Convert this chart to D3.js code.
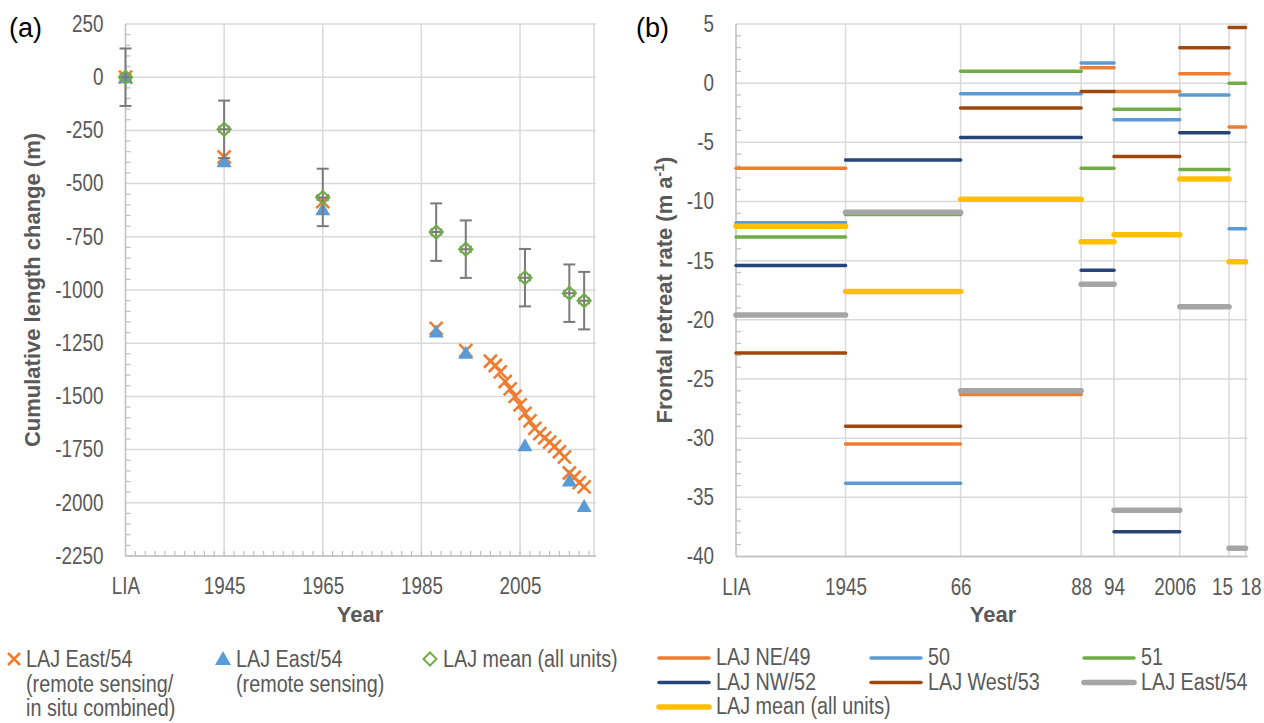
<!DOCTYPE html>
<html lang="en">
<head>
<meta charset="utf-8">
<title>LAJ frontal change</title>
<style>
    body { margin: 0; background: #fff; }
    svg text { font-family: "Liberation Sans", Arial, sans-serif; }
    .tick text { font-size: 23px; fill: #595959; }
    .axis-title { font-weight: bold; font-size: 22px; fill: #595959; }
    .panel-label { font-size: 27px; fill: #000; }
    .legend text { font-size: 23px; fill: #595959; }
</style>
</head>
<body>
<svg id="chart" width="1264" height="723"></svg>
<script src="https://d3js.org/d3.v7.min.js"></script>
<script>
    // ---- panel (a): cumulative length change, LIA = 1925 on the axis
    var aTickYears  = [1925, 1945, 1965, 1985, 2005];
    var aTickLabels = ['LIA', '1945', '1965', '1985', '2005'];
    var aYTicks     = [250, 0, -250, -500, -750, -1000, -1250, -1500, -1750, -2000, -2250];

    var meanYears  = [1925, 1945, 1965, 1988, 1994, 2006, 2015, 2018];
    var meanValues = [0, -245, -565, -728, -808, -942, -1015, -1050];
    var meanErr    = [135, 135, 135, 135, 135, 135, 135, 135];

    var rsYears  = [1925, 1945, 1965, 1988, 1994, 2006, 2015, 2018];
    var rsValues = [0, -395, -620, -1195, -1295, -1730, -1895, -2015];

    var combYears  = [1925, 1945, 1965, 1988, 1994, 1999, 2000, 2001, 2002, 2003, 2004, 2005, 2006,
                      2007, 2008, 2009, 2010, 2011, 2012, 2013, 2014, 2015, 2016, 2017, 2018];
    var combValues = [0, -375, -585, -1180, -1285, -1335, -1355, -1385, -1430, -1465, -1500, -1540, -1580,
                      -1615, -1650, -1675, -1695, -1715, -1735, -1760, -1785, -1860, -1880, -1905, -1925];

    // ---- panel (b): frontal retreat rate per period
    var bYears      = [1925, 1945, 1966, 1988, 1994, 2006, 2015, 2018];
    var bTickLabels = ['LIA', '1945', '66', '88', '94', '2006', '15', '18'];
    var bYTicks     = [5, 0, -5, -10, -15, -20, -25, -30, -35, -40];

    var rateNE49   = [-7.2, -30.5, -26.3, 1.3, -0.7, 0.8, -3.7];
    var rate50     = [-11.8, -33.8, -0.9, 1.7, -3.1, -1.0, -12.3];
    var rate51     = [-13.0, -11.1, 1.0, -7.2, -2.2, -7.3, 0.0];
    var rateNW52   = [-15.4, -6.5, -4.6, -15.8, -37.9, -4.2, null];
    var rateWest53 = [-22.8, -29.0, -2.1, -0.7, -6.2, 3.0, 4.7];
    var rateEast54 = [-19.6, -10.9, -26.0, -17.0, -36.1, -18.9, -39.3];
    var rateMean   = [-12.1, -17.6, -9.8, -13.4, -12.8, -8.1, -15.1];

    var bSeries = [
        {name: 'LAJ NE/49', values: rateNE49, color: '#ED7D31', w: 3.5},
        {name: '50', values: rate50, color: '#5B9BD5', w: 3.5},
        {name: '51', values: rate51, color: '#70AD47', w: 3.5},
        {name: 'LAJ NW/52', values: rateNW52, color: '#264478', w: 3.5},
        {name: 'LAJ West/53', values: rateWest53, color: '#9E480E', w: 3.5},
        {name: 'LAJ East/54', values: rateEast54, color: '#A5A5A5', w: 5.5},
        {name: 'LAJ mean (all units)', values: rateMean, color: '#FFC000', w: 5.5}
    ];

    var svg = d3.select('#chart');
    var gridColor = '#d9d9d9', axisColor = '#bfbfbf';
    // no Arial Narrow installed: squeeze Liberation Sans instead
    var NARROW = 0.82, LEG_NARROW = 0.86;

    // scales
    var xA = d3.scaleLinear().domain([1925, 2020]).range([125.5, 594]);
    var yA = d3.scaleLinear().domain([-2250, 250]).range([556, 24]);
    var xB = d3.scaleLinear().domain([1925, 2018]).range([736, 1245.5]);
    var yB = d3.scaleLinear().domain([-40, 5]).range([556.5, 24]);

    function narrowText(g, x, y, s) {
        return g.append('text').attr('transform', 'translate(' + x + ',' + y + ') scale(' + LEG_NARROW + ',1)').text(s);
    }

    function drawFrame(x, y, xTicks, xLabels, xShift, yTicks, yMinor, xMinor) {
        var x0 = x.range()[0], x1 = x.range()[1], y0 = y.range()[0], y1 = y.range()[1];
        var g = svg.append('g');
        // horizontal grid
        g.selectAll('line.hg').data(yTicks).enter().append('line')
            .attr('x1', x0).attr('x2', x1 + 2)
            .attr('y1', function(d) { return y(d); }).attr('y2', function(d) { return y(d); })
            .attr('stroke', gridColor).attr('stroke-width', 1.5);
        // vertical grid
        var vg = xTicks.slice(1);
        if (vg.indexOf(x.domain()[1]) < 0) vg.push(x.domain()[1]);
        g.selectAll('line.vg').data(vg).enter().append('line')
            .attr('x1', function(d) { return x(d); }).attr('x2', function(d) { return x(d); })
            .attr('y1', y1).attr('y2', y0)
            .attr('stroke', gridColor).attr('stroke-width', 1.5);
        // minor ticks
        g.selectAll('line.my').data(yMinor).enter().append('line')
            .attr('x1', x0).attr('x2', x0 + 5)
            .attr('y1', function(d) { return y(d); }).attr('y2', function(d) { return y(d); })
            .attr('stroke', axisColor).attr('stroke-width', 1.2);
        g.selectAll('line.mx').data(xMinor).enter().append('line')
            .attr('x1', function(d) { return x(d); }).attr('x2', function(d) { return x(d); })
            .attr('y1', y0).attr('y2', y0 - 5)
            .attr('stroke', axisColor).attr('stroke-width', 1.2);
        // axis lines
        g.append('line').attr('x1', x0).attr('x2', x0).attr('y1', y1).attr('y2', y0)
            .attr('stroke', axisColor).attr('stroke-width', 1.5);
        g.append('line').attr('x1', x0).attr('x2', x1 + 2).attr('y1', y0).attr('y2', y0)
            .attr('stroke', axisColor).attr('stroke-width', 1.5);

        // labels through d3 axes (plain hyphen for negatives, like Excel)
        var ay = svg.append('g').attr('transform', 'translate(' + x0 + ',0)')
            .call(d3.axisLeft(y).tickValues(yTicks).tickSize(0).tickPadding(22)
                .tickFormat(function(d) { return String(d); }));
        var ax = svg.append('g').attr('transform', 'translate(0,' + y0 + ')')
            .call(d3.axisBottom(x).tickValues(xTicks).tickSize(0).tickPadding(22)
                .tickFormat(function(d, i) { return xLabels[i]; }));
        [ax, ay].forEach(function(a) {
            a.select('.domain').remove();
            a.attr('font-family', null).attr('font-size', null);
        });
        ay.selectAll('text').attr('x', -22 / NARROW).attr('transform', 'scale(' + NARROW + ',1)');
        ax.selectAll('text').attr('x', function(d, i) { return (xShift[i] || 0) / NARROW; })
            .attr('transform', 'scale(' + NARROW + ',1)');
    }

    // ---------- panel (a)
    var aMinorY = [], aMinorX = [];
    for (var v = 200; v > -2250; v -= 50) if (v % 250 !== 0) aMinorY.push(v);
    for (var t = 1927; t < 2020; t += 2) aMinorX.push(t);
    drawFrame(xA, yA, aTickYears, aTickLabels, [], aYTicks, aMinorY, aMinorX);

    var orange = '#ED7D31', blue = '#5B9BD5', green = '#70AD47', errColor = '#7a7a7a';

    function xMark(sel, s) {
        sel.append('path').attr('d', 'M' + (-s) + ',' + (-s) + 'L' + s + ',' + s + 'M' + (-s) + ',' + s + 'L' + s + ',' + (-s))
            .attr('stroke', orange).attr('stroke-width', 2.6).attr('fill', 'none');
    }
    function triMark(sel) {
        sel.append('path').attr('d', 'M0,-7L7.5,6L-7.5,6Z').attr('fill', blue);
    }
    function diaMark(sel) {
        sel.append('path').attr('d', 'M0,-6.5L6.5,0L0,6.5L-6.5,0Z')
            .attr('fill', 'none').attr('stroke', green).attr('stroke-width', 2.2);
    }

    var combData = combYears.map(function(d, i) { return [d, combValues[i]]; });
    svg.append('g').selectAll('g').data(combData).enter().append('g')
        .attr('transform', function(d) { return 'translate(' + xA(d[0]) + ',' + yA(d[1]) + ')'; })
        .each(function() { xMark(d3.select(this), 6.5); });

    var rsData = rsYears.map(function(d, i) { return [d, rsValues[i]]; });
    svg.append('g').selectAll('g').data(rsData).enter().append('g')
        .attr('transform', function(d) { return 'translate(' + xA(d[0]) + ',' + yA(d[1]) + ')'; })
        .each(function() { triMark(d3.select(this)); });

    var meanData = meanYears.map(function(d, i) { return [d, meanValues[i], meanErr[i]]; });
    var eb = svg.append('g').selectAll('g').data(meanData).enter().append('g');
    eb.append('line')
        .attr('x1', function(d) { return xA(d[0]); }).attr('x2', function(d) { return xA(d[0]); })
        .attr('y1', function(d) { return yA(d[1] + d[2]); }).attr('y2', function(d) { return yA(d[1] - d[2]); });
    eb.append('line')
        .attr('x1', function(d) { return xA(d[0]) - 6; }).attr('x2', function(d) { return xA(d[0]) + 6; })
        .attr('y1', function(d) { return yA(d[1] + d[2]); }).attr('y2', function(d) { return yA(d[1] + d[2]); });
    eb.append('line')
        .attr('x1', function(d) { return xA(d[0]) - 6; }).attr('x2', function(d) { return xA(d[0]) + 6; })
        .attr('y1', function(d) { return yA(d[1] - d[2]); }).attr('y2', function(d) { return yA(d[1] - d[2]); });
    // small horizontal error bar inside the diamond
    eb.append('path').attr('d', function(d) {
        var cx = xA(d[0]), cy = yA(d[1]);
        return 'M' + (cx - 5) + ',' + cy + 'H' + (cx + 5) +
            'M' + (cx - 5) + ',' + (cy - 3.5) + 'V' + (cy + 3.5) +
            'M' + (cx + 5) + ',' + (cy - 3.5) + 'V' + (cy + 3.5);
    }).attr('fill', 'none');
    eb.selectAll('line, path').attr('stroke', errColor).attr('stroke-width', 2);
    eb.append('g')
        .attr('transform', function(d) { return 'translate(' + xA(d[0]) + ',' + yA(d[1]) + ')'; })
        .each(function() { diaMark(d3.select(this)); });

    // titles (a)
    svg.append('text').attr('class', 'panel-label').attr('x', 9).attr('y', 37).text('(a)');
    svg.append('text').attr('class', 'axis-title').attr('text-anchor', 'middle').attr('font-size', '21.5px')
        .attr('transform', 'translate(40,290) rotate(-90)').text('Cumulative length change (m)');
    svg.append('text').attr('class', 'axis-title').attr('text-anchor', 'middle')
        .attr('x', 360).attr('y', 622).text('Year');

    // legend (a)
    var legA = svg.append('g').attr('class', 'legend');
    xMark(legA.append('g').attr('transform', 'translate(14,659)'), 6);
    legA.append('g').attr('transform', 'translate(223,659)').append('path').attr('d', 'M0,-8L8,6L-8,6Z').attr('fill', blue);
    legA.append('g').attr('transform', 'translate(430,659)').append('path').attr('d', 'M0,-6.5L6.5,0L0,6.5L-6.5,0Z')
        .attr('fill', 'none').attr('stroke', green).attr('stroke-width', 2);
    var legAText = [
        [26, ['LAJ East/54', '(remote sensing/', 'in situ combined)']],
        [236, ['LAJ East/54', '(remote sensing)']],
        [443, ['LAJ mean (all units)']]
    ];
    legAText.forEach(function(it) {
        it[1].forEach(function(s, i) { narrowText(legA, it[0], 667 + i * 24.5, s); });
    });

    // ---------- panel (b)
    var bMinorY = [];
    for (var r = 4; r > -40; r -= 1) if (r % 5 !== 0) bMinorY.push(r);
    // Excel nudges the crowded labels apart
    drawFrame(xB, yB, bYears, bTickLabels, [0, 0, 0, 0, 0, -5, -7, 5], bYTicks, bMinorY, []);

    bSeries.forEach(function(s) {
        var segs = [];
        s.values.forEach(function(v, i) { if (v !== null) segs.push([bYears[i], bYears[i + 1], v]); });
        svg.append('g').selectAll('line').data(segs).enter().append('line')
            .attr('x1', function(d) { return xB(d[0]); }).attr('x2', function(d) { return xB(d[1]); })
            .attr('y1', function(d) { return yB(d[2]); }).attr('y2', function(d) { return yB(d[2]); })
            .attr('stroke', s.color).attr('stroke-width', s.w).attr('stroke-linecap', 'round');
    });

    svg.append('text').attr('class', 'panel-label').attr('x', 636).attr('y', 37).text('(b)');
    var yt = svg.append('text').attr('class', 'axis-title').attr('text-anchor', 'middle')
        .attr('transform', 'translate(672,290) rotate(-90)');
    yt.append('tspan').text('Frontal retreat rate (m a');
    yt.append('tspan').attr('font-size', '14px').attr('dy', -8).text('-1');
    yt.append('tspan').attr('dy', 8).text(')');
    svg.append('text').attr('class', 'axis-title').attr('text-anchor', 'middle')
        .attr('x', 993).attr('y', 622).text('Year');

    // legend (b)
    var legB = svg.append('g').attr('class', 'legend');
    var legPos = [[657, 0], [869, 0], [1082, 0], [657, 1], [869, 1], [1082, 1], [657, 2]];
    bSeries.forEach(function(s, i) {
        var px = legPos[i][0], py = 665 + legPos[i][1] * 24.5;
        legB.append('line').attr('x1', px + 2).attr('x2', px + 52).attr('y1', py - 7).attr('y2', py - 7)
            .attr('stroke', s.color).attr('stroke-width', s.w).attr('stroke-linecap', 'round');
        narrowText(legB, px + 59, py, s.name);
    });
</script>
</body>
</html>
